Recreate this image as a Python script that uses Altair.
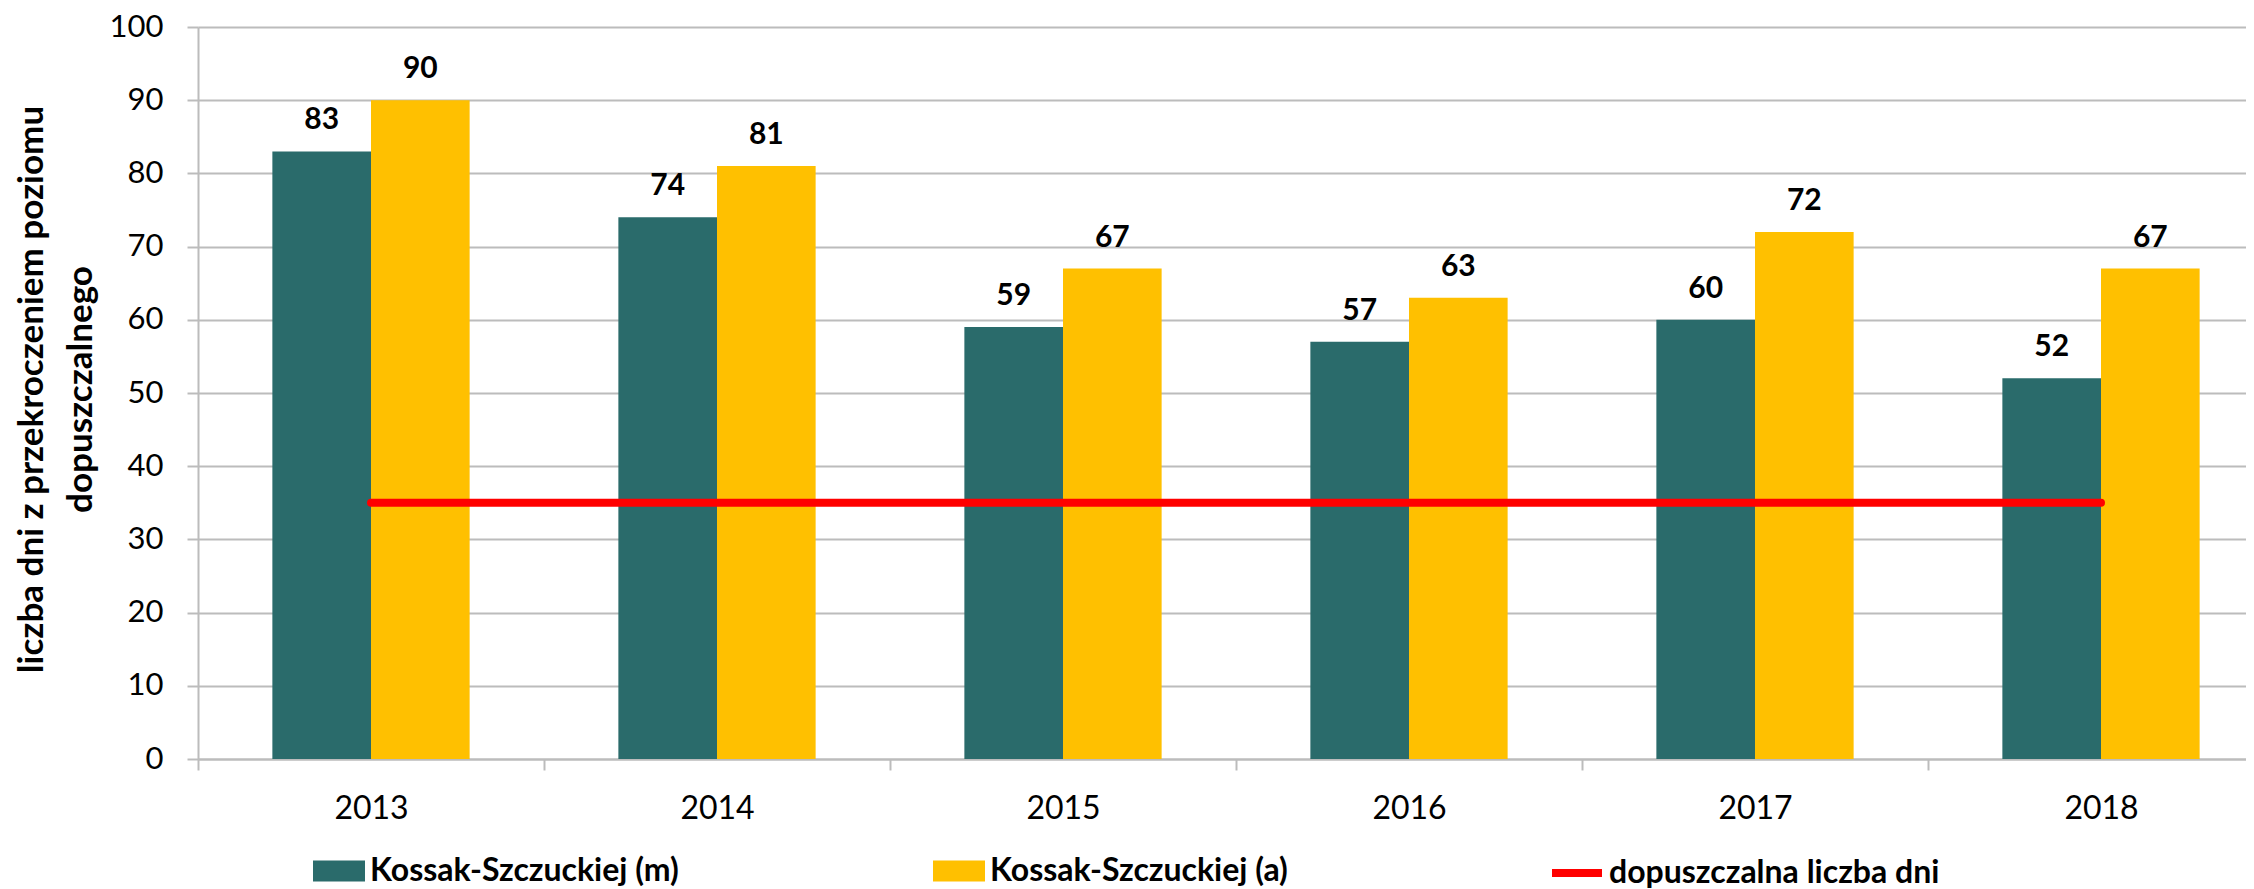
import altair as alt
import pandas as pd

years = ["2013", "2014", "2015", "2016", "2017", "2018"]
series_m = [83, 74, 59, 57, 60, 52]
series_a = [90, 81, 67, 63, 72, 67]
limit_days = [35, 35, 35, 35, 35, 35]
name_m = "Kossak-Szczuckiej (m)"
name_a = "Kossak-Szczuckiej (a)"
name_limit = "dopuszczalna liczba dni"
y_ticks = [0, 10, 20, 30, 40, 50, 60, 70, 80, 90, 100]
y_title = ["liczba dni z przekroczeniem poziomu", "dopuszczalnego"]

GREEN = "#2a6b6b"
YELLOW = "#ffc000"
RED = "#ff0000"
GRID = "#bcbcbc"
FONT = "Lato"

bars_df = pd.DataFrame({
    "rok": years * 2,
    "seria": [name_m] * len(years) + [name_a] * len(years),
    "dni": series_m + series_a,
})
limit_df = pd.DataFrame({
    "rok": years,
    "seria": [name_limit] * len(years),
    "dni": limit_days,
})

x_scale = alt.Scale(domain=years, range=[0, 2076], paddingInner=0, paddingOuter=0)
x_enc = alt.X(
    "rok:N", scale=x_scale, sort=years,
    axis=alt.Axis(
        title=None, labelAngle=0, labelFont=FONT, labelFontSize=32, labelColor="#000000",
        labelPadding=23, tickBand="extent", tickSize=11, tickColor=GRID, tickWidth=2,
        domainColor=GRID, domainWidth=2, grid=False,
    ),
)
y_enc = alt.Y(
    "dni:Q", scale=alt.Scale(domain=[0, 100], nice=False),
    axis=alt.Axis(
        values=y_ticks, title=y_title, titleFont=FONT, titleFontSize=35,
        titleFontWeight="bold", titleColor="#000000", titleBaseline="top",
        titleAlign="center", titleX=-184, titleY=362, titleLineHeight=49,
        labelFont=FONT, labelFontSize=31, labelColor="#000000", labelPadding=24,
        tickSize=11, tickColor=GRID, tickWidth=2, gridColor=GRID, gridWidth=2,
        domainColor=GRID, domainWidth=2,
    ),
)
x_off = alt.XOffset(
    "seria:N", sort=[name_m, name_a],
    scale=alt.Scale(domain=[name_m, name_a], paddingInner=0, paddingOuter=0.754),
)

bars = alt.Chart(bars_df).mark_bar().encode(
    x=x_enc,
    xOffset=x_off,
    y=y_enc,
    color=alt.Color(
        "seria:N",
        scale=alt.Scale(domain=[name_m, name_a], range=[GREEN, YELLOW]),
        legend=alt.Legend(
            orient="none", legendX=115, legendY=818, direction="horizontal",
            columns=2, title=None, padding=0,
            symbolType="M-1,-0.4H1V0.4H-1Z", symbolSize=2704, symbolStrokeWidth=0,
            symbolOpacity=1,
            labelFont=FONT, labelFontSize=32, labelFontWeight="bold",
            labelColor="#000000", labelOffset=5, labelLimit=0, columnPadding=254,
        ),
    ),
)

labels = alt.Chart(bars_df).mark_text(
    font=FONT, fontSize=30, fontWeight="bold", baseline="alphabetic", dy=-22,
    color="#000000",
).encode(
    x=alt.X("rok:N", sort=years),
    xOffset=alt.XOffset("seria:N", sort=[name_m, name_a]),
    y=alt.Y("dni:Q"),
    text=alt.Text("dni:Q"),
)

limit_line = alt.Chart(limit_df).mark_line(strokeWidth=8, strokeCap="round").encode(
    x=alt.X("rok:N", sort=years),
    y=alt.Y("dni:Q"),
    stroke=alt.Stroke(
        "seria:N",
        scale=alt.Scale(domain=[name_limit], range=[RED]),
        legend=alt.Legend(
            orient="none", legendX=1350, legendY=817, direction="horizontal",
            title=None, padding=0, symbolType="stroke", symbolSize=2500,
            symbolStrokeWidth=8, labelFont=FONT, labelFontSize=32,
            labelFontWeight="bold", labelColor="#000000", labelOffset=3, labelLimit=0,
        ),
    ),
)

chart = alt.layer(bars, labels, limit_line).properties(
    width=2048,
    height=732,
    autosize=alt.AutoSizeParams(type="none"),
    padding={"left": 190, "top": 19, "right": 0, "bottom": 130},
    background="white",
).configure_view(stroke=None)

chart.save("out.html", embed_options={"renderer": "svg", "actions": False})
